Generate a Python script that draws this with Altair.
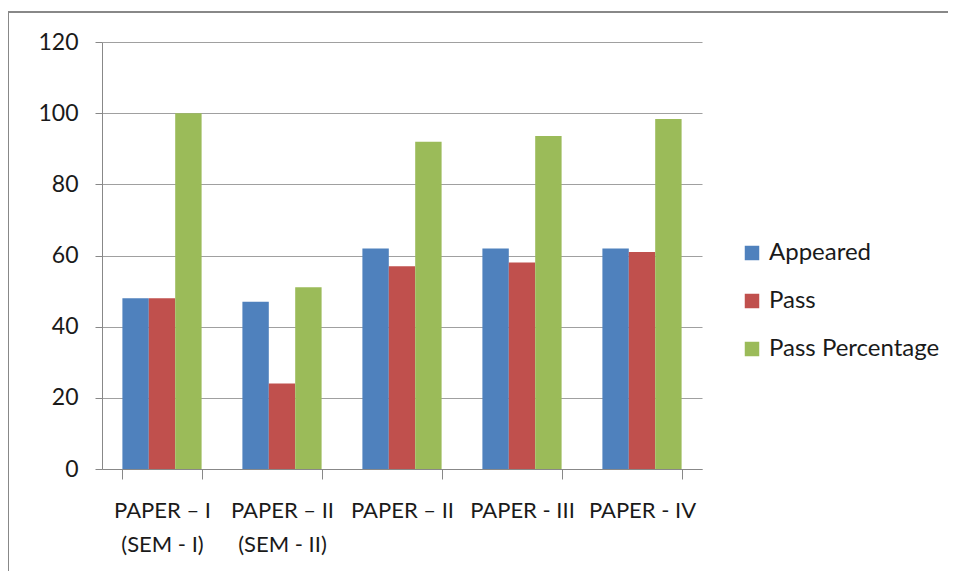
import altair as alt
import pandas as pd

papers = ["PAPER – I\n(SEM - I)", "PAPER – II\n(SEM - II)", "PAPER – II", "PAPER - III", "PAPER - IV"]
series = ["Appeared", "Pass", "Pass Percentage"]
appeared = [48, 47, 62, 62, 62]
passed = [48, 24, 57, 58, 61]
pass_pct = [100, 51.06, 91.94, 93.55, 98.39]
colors = ["#4F81BD", "#C0504D", "#9BBB59"]
y_ticks = [0, 20, 40, 60, 80, 100, 120]

rows = []
for i, p in enumerate(papers):
    for s, vals in zip(series, [appeared, passed, pass_pct]):
        rows.append({"paper": p, "series": s, "value": vals[i]})
df = pd.DataFrame(rows)

FONT = "Lato"

bars = alt.Chart(df).mark_bar().encode(
    x=alt.X("paper:N", sort=papers, title=None,
            scale=alt.Scale(paddingInner=0.34, paddingOuter=0.17),
            axis=alt.Axis(labelAngle=0, labelExpr="split(datum.label, '\\n')",
                          labelFont=FONT, labelFontSize=22, labelColor="#1a1a1a",
                          labelLineHeight=34, labelPadding=21, labelBaseline="top",
                          labelLimit=300,
                          tickBand="extent", tickSize=10, tickColor="#888888",
                          domainColor="#888888", grid=False)),
    xOffset=alt.XOffset("series:N", sort=series),
    y=alt.Y("value:Q", title=None,
            scale=alt.Scale(domain=[0, 120], nice=False),
            axis=alt.Axis(values=y_ticks, labelFont=FONT, labelFontSize=23,
                          labelColor="#1a1a1a", labelPadding=17, tickSize=7,
                          tickColor="#888888", domainColor="#888888",
                          gridColor="#a0a0a0", gridWidth=1.2)),
    color=alt.Color("series:N", sort=series, title=None,
                    scale=alt.Scale(domain=series, range=colors),
                    legend=alt.Legend(orient="none", legendX=638, legendY=199,
                                      symbolType="square", symbolSize=210,
                                      symbolStrokeWidth=0, labelFont=FONT,
                                      labelFontSize=24, labelColor="#1a1a1a",
                                      labelOffset=5, rowPadding=24,
                                      labelLimit=300)),
)

one = alt.Data(values=[{}])
top_border = alt.Chart(one).mark_rule(color="#888888", strokeWidth=2).encode(
    x=alt.value(-94), x2=alt.value(846), y=alt.value(-30))
left_border = alt.Chart(one).mark_rule(color="#888888", strokeWidth=2).encode(
    x=alt.value(-94), y=alt.value(-30), y2=alt.value(529))

chart = alt.layer(bars, top_border, left_border).properties(
    width=600, height=427,
    autosize=alt.AutoSizeParams(type="none"),
    padding={"left": 94, "top": 34, "right": 246, "bottom": 102},
).configure_view(stroke=None)

chart.save("out.html", embed_options={"renderer": "svg", "actions": False})
